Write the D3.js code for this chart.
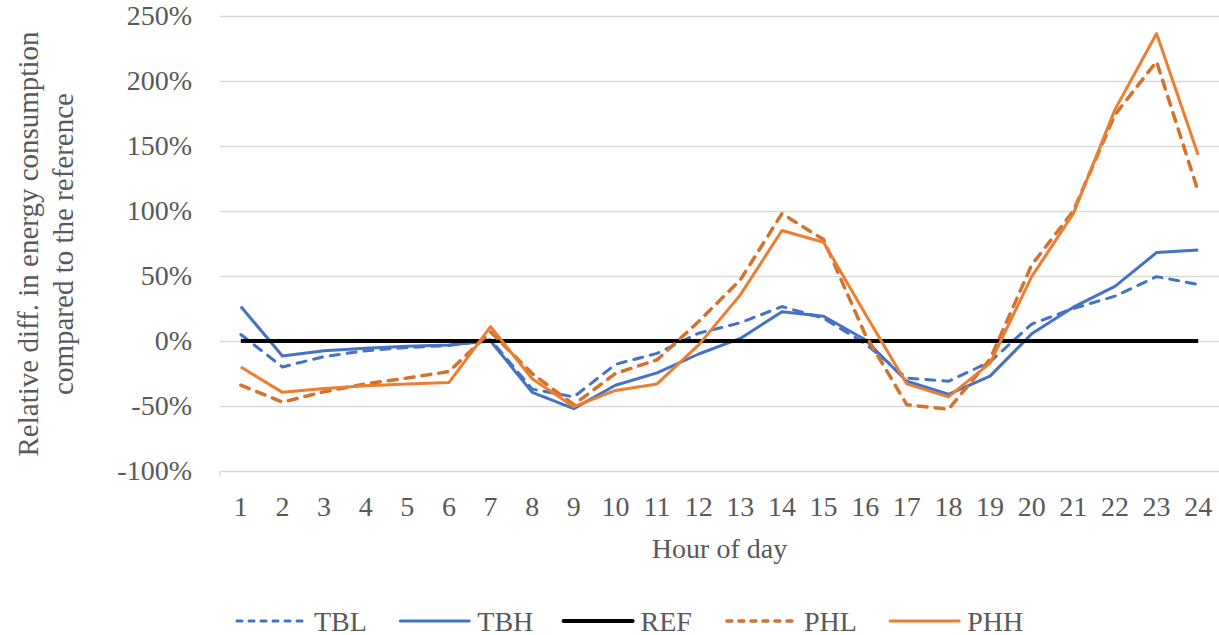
<!DOCTYPE html>
<html>
<head>
<meta charset="utf-8">
<script src="https://cdn.jsdelivr.net/npm/d3@7"></script>
<style>
  body { margin: 0; background: #fff; }
  text { font-family: "Liberation Serif", "Times New Roman", serif; fill: #595959; }
</style>
</head>
<body>
<div id="chart"></div>
<script>
// data (percent)
const hours = [1, 2, 3, 4, 5, 6, 7, 8, 9, 10, 11, 12, 13, 14, 15, 16, 17, 18, 19, 20, 21, 22, 23, 24];
const tbl = [5, -20, -12, -7.5, -5, -3.5, 1, -37, -43, -18, -9.5, 6, 14, 26.5, 17.5, -2, -28.5, -31, -16, 13, 25, 34.5, 49.5, 43.5];
const tbh = [26.5, -11.5, -7.5, -5.5, -4, -3, 0, -39.5, -52, -34, -24.5, -10, 2, 22.5, 19, 1, -31, -41, -27, 5.5, 26, 42, 68, 70];
const ref = [0, 0, 0, 0, 0, 0, 0, 0, 0, 0, 0, 0, 0, 0, 0, 0, 0, 0, 0, 0, 0, 0, 0, 0];
const phl = [-34, -47, -39, -33, -28.5, -23.5, 7, -25, -49, -25, -14.5, 15, 47, 98, 78, 5, -49, -52.5, -14, 58.5, 100, 174, 215, 115];
const phh = [-20, -39.5, -36.5, -34.5, -33, -32, 11, -29, -50.5, -38, -33, -3, 35.5, 85, 76, 21, -33, -43, -17, 49.5, 98, 178, 236.5, 143];
const yTicks = [-100, -50, 0, 50, 100, 150, 200, 250];

const seriesNames = ["TBL", "TBH", "REF", "PHL", "PHH"];
const seriesValues = [tbl, tbh, ref, phl, phh];

// styles per series
const styles = {
    TBL: { color: "#4472C4", width: 3, dash: "9,8" },
    TBH: { color: "#4472C4", width: 3, dash: null },
    REF: { color: "#000000", width: 4, dash: null },
    PHL: { color: "#D4722C", width: 3.5, dash: "9,8" },
    PHH: { color: "#ED7D31", width: 3, dash: null }
};

const W = 1219, H = 635;
const plotLeft = 220, plotRight = 1219, plotTop = 16, plotBottom = 471;

const svg = d3.select("#chart")
    .append("svg")
    .attr("width", W)
    .attr("height", H);

// scales
const x = d3.scaleBand()
    .domain(hours)
    .range([plotLeft, plotRight]);

const y = d3.scaleLinear()
    .domain([-100, 250])
    .range([plotBottom, plotTop]);

// y axis + gridlines
const yAxis = svg.append("g")
    .attr("transform", "translate(" + plotLeft + ",0)")
    .call(d3.axisLeft(y)
        .tickValues(yTicks)
        .tickSize(-(plotRight - plotLeft))
        .tickPadding(28)
        .tickFormat(d => d + "%"));
yAxis.select(".domain").remove();
yAxis.selectAll("line").attr("stroke", "#d9d9d9").attr("stroke-width", 1.5);
yAxis.selectAll("text").style("font-size", "28px").attr("fill", "#595959");

// little tick at the left end of the category axis
svg.append("line")
    .attr("x1", plotLeft).attr("x2", plotLeft)
    .attr("y1", plotBottom).attr("y2", plotBottom + 5)
    .attr("stroke", "#d9d9d9").attr("stroke-width", 1.5);

// x axis labels
const xAxis = svg.append("g")
    .attr("transform", "translate(0," + plotBottom + ")")
    .call(d3.axisBottom(x).tickSize(0).tickPadding(25));
xAxis.select(".domain").remove();
xAxis.selectAll("text").style("font-size", "28px").attr("fill", "#595959");

// lines
const line = d3.line()
    .x((d, i) => x(hours[i]) + x.bandwidth() / 2)
    .y(d => y(d));

seriesNames.forEach((name, k) => {
    const s = styles[name];
    svg.append("path")
        .datum(seriesValues[k])
        .attr("fill", "none")
        .attr("stroke", s.color)
        .attr("stroke-width", s.width)
        .attr("stroke-linejoin", "round")
        .attr("stroke-linecap", s.dash ? "round" : "butt")
        .attr("stroke-dasharray", s.dash)
        .attr("d", line);
});

// axis titles
svg.append("text")
    .text("Hour of day")
    .attr("x", (plotLeft + plotRight) / 2)
    .attr("y", 548)
    .attr("text-anchor", "middle")
    .attr("dominant-baseline", "central")
    .style("font-size", "28px");

const yTitle = ["Relative diff. in energy consumption", "compared to the reference"];
yTitle.forEach((t, i) => {
    svg.append("text")
        .text(t)
        .attr("transform", "translate(" + (28 + i * 35) + ",244) rotate(-90)")
        .attr("text-anchor", "middle")
        .attr("dominant-baseline", "central")
        .style("font-size", "29px");
});

// legend
const legend = svg.append("g").attr("transform", "translate(0,621)");
seriesNames.forEach((name, i) => {
    const s = styles[name];
    const x0 = 237 + i * 163.3;
    legend.append("line")
        .attr("x1", x0).attr("x2", x0 + 69)
        .attr("y1", 0).attr("y2", 0)
        .attr("stroke", s.color)
        .attr("stroke-width", s.width)
        .attr("stroke-linecap", "round")
        .attr("stroke-dasharray", s.dash ? "5,7" : null);
    legend.append("text")
        .text(name)
        .attr("x", x0 + 77)
        .attr("y", 0)
        .attr("dominant-baseline", "central")
        .style("font-size", "28px");
});
</script>
</body>
</html>
